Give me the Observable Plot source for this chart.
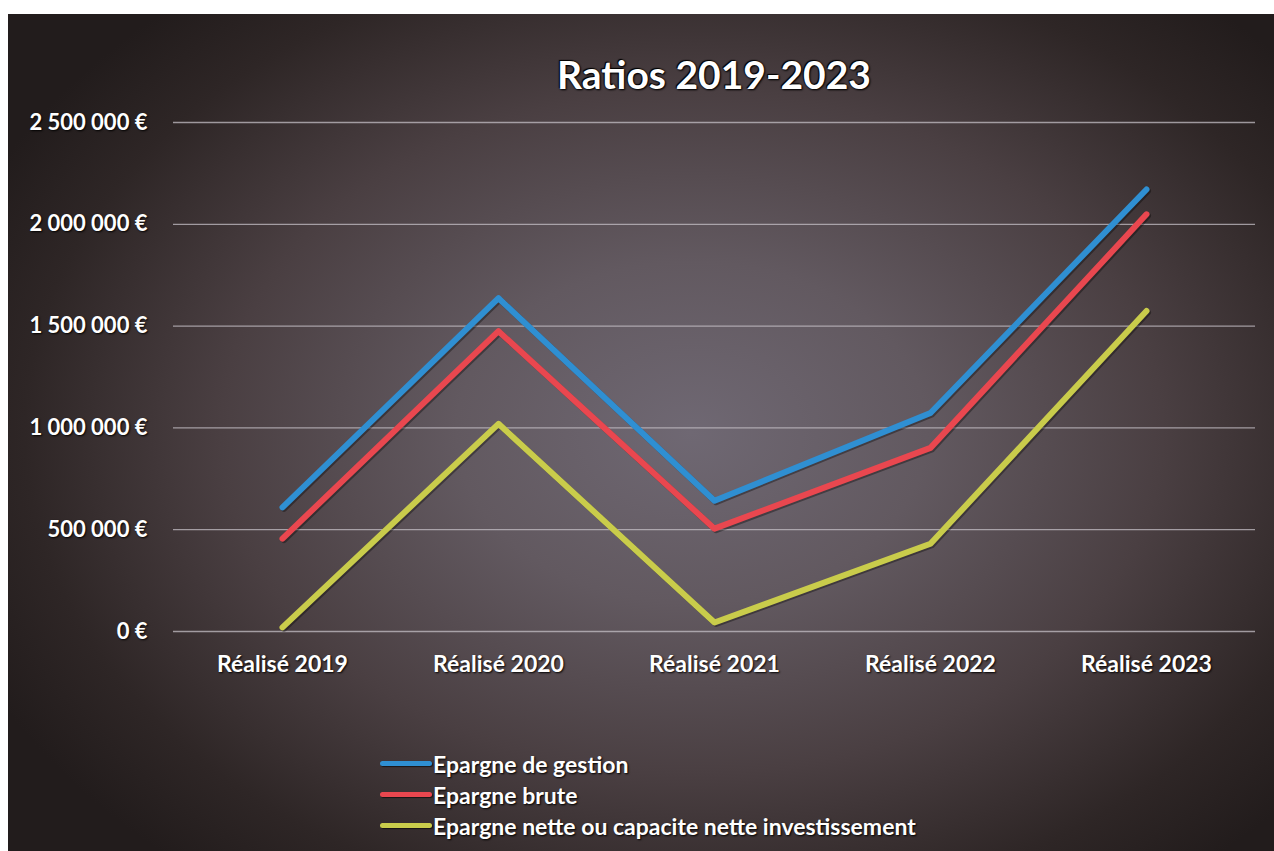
<!DOCTYPE html>
<html><head><meta charset="utf-8">
<script src="https://cdn.jsdelivr.net/npm/d3@7"></script>
<script src="https://cdn.jsdelivr.net/npm/@observablehq/plot@0.6"></script>
<style>
html,body{margin:0;padding:0;background:#fff;}
#chart{position:absolute;left:8px;top:14px;width:1266px;height:837px;overflow:hidden;
  background: radial-gradient(ellipse 62% 68% at 54% 50%, #6f6873 0%, #625960 30%, #4a3f42 60%, #2e2626 85%, #221c1c 100%);
  font-family: Lato, "Open Sans", sans-serif;}
#title{height:90px;box-sizing:border-box;padding:41px 19px 0 165px;text-align:center;
  color:#fff;font-size:39px;font-weight:700;line-height:39px;
  text-shadow:0 0 2px #000,1px 1px 2px #000,-1px -1px 1px #000;}
#plot svg text{ text-shadow:1px 1px 2px rgba(0,0,0,.95); }
#legend{margin-top:44px;padding-left:372px;}
.row{height:31px;display:flex;align-items:center;color:#fff;font-size:23px;font-weight:700;
  text-shadow:1px 1px 2px #000;}
.sw{display:inline-block;width:52px;height:5px;border-radius:3px;margin-right:1px;box-shadow:1px 1px 1px rgba(0,0,0,.6);}
</style></head>
<body>
<div id="chart">
  <div id="title">Ratios 2019-2023</div>
  <div id="plot"></div>
  <div id="legend"></div>
</div>
<script>
const categories = ["Réalisé 2019","Réalisé 2020","Réalisé 2021","Réalisé 2022","Réalisé 2023"];
const seriesNames = ["Epargne de gestion","Epargne brute","Epargne nette ou capacite nette investissement"];
const epargneGestion = [610000, 1637000, 642000, 1073000, 2171000];
const epargneBrute   = [456000, 1475000, 505000, 902000, 2049000];
const epargneNette   = [20000, 1020000, 44000, 431000, 1574000];
const yTicks = [0, 500000, 1000000, 1500000, 2000000, 2500000];
const colors = ["#2f8fd2", "#e9474f", "#c9cc4b"];

const seriesValues = [epargneGestion, epargneBrute, epargneNette];
const rows = [];
seriesNames.forEach((s, i) => categories.forEach((c, j) => rows.push({series: s, cat: c, value: seriesValues[i][j]})));

const fmt = v => d3.format(",")(v).replace(/,/g, " ") + " €";

const chart = Plot.plot({
  width: 1266,
  height: 600,
  marginTop: 18,
  marginBottom: 73,
  marginLeft: 165,
  marginRight: 19,
  style: {background: "transparent", color: "#fff", fontFamily: "Lato, sans-serif", fontSize: "22px", fontWeight: "700", overflow: "visible"},
  x: {type: "point", domain: categories, padding: 0.5, label: null},
  y: {domain: [0, 2500000], label: null},
  color: {domain: seriesNames, range: colors},
  marks: [
    Plot.ruleY(yTicks, {stroke: "#c4bfc6", strokeOpacity: 0.75, strokeWidth: 1.3}),
    Plot.axisY({ticks: yTicks, tickFormat: fmt, tickSize: 0, tickPadding: 26, fill: "#fff", fontSize: 22}),
    Plot.axisX({tickSize: 0, tickPadding: 24, fill: "#fff", fontSize: 23}),
    Plot.line(rows, {x: "cat", y: "value", z: "series", stroke: "#000", strokeOpacity: 0.35, strokeWidth: 6, dx: 1.5, dy: 1.5, strokeLinecap: "round", strokeLinejoin: "round"}),
    Plot.line(rows, {x: "cat", y: "value", z: "series", stroke: "series", strokeWidth: 6, strokeLinecap: "round", strokeLinejoin: "round"})
  ]
});
document.getElementById("plot").appendChild(chart);

const legend = document.getElementById("legend");
seriesNames.forEach((s, i) => {
  const r = document.createElement("div");
  r.className = "row";
  const sw = document.createElement("span");
  sw.className = "sw";
  sw.style.background = colors[i];
  r.appendChild(sw);
  r.appendChild(document.createTextNode(s));
  legend.appendChild(r);
});
</script>
</body></html>
